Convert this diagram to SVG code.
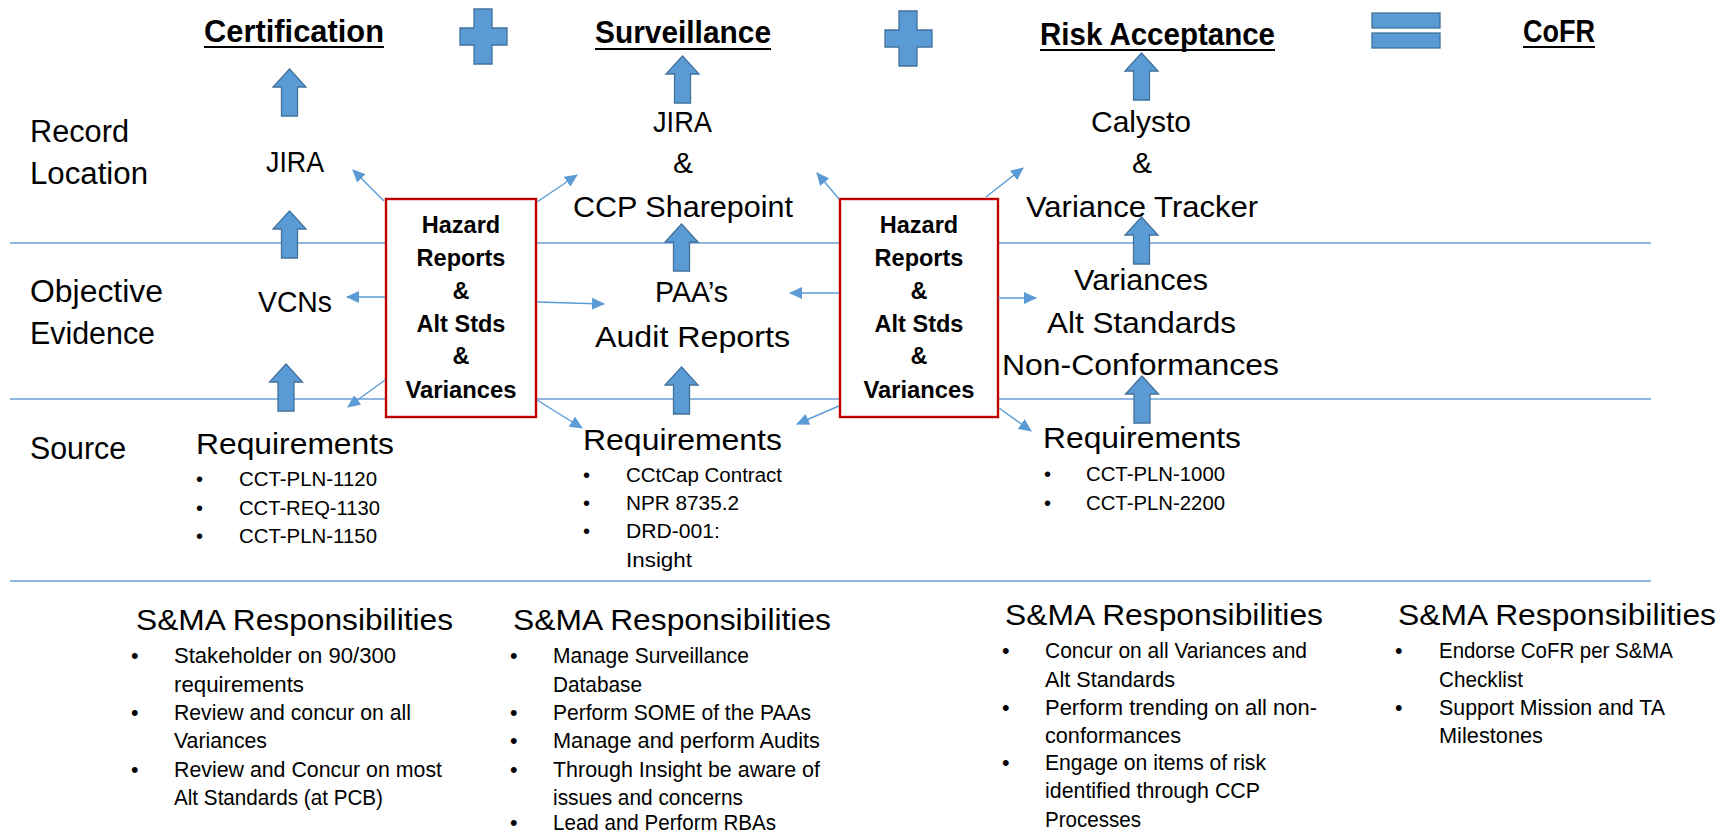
<svg xmlns="http://www.w3.org/2000/svg" width="1726" height="833" viewBox="0 0 1726 833">
<style>
text{font-family:"Liberation Sans",Arial,sans-serif;fill:#000}
.h{font-size:31px;font-weight:bold}
.lab{font-size:31px}
.n{font-size:30px}
.c{text-anchor:middle}
.bx{font-size:23.5px;font-weight:bold;text-anchor:middle}
.rq{font-size:20px}
.sh{font-size:30px}
.b{font-size:21.5px}
.ul{stroke:#000;stroke-width:2.2}
.grid{stroke:#6A9FD8;stroke-width:1.4}
.blk{fill:#5B9BD5;stroke:#41719C;stroke-width:1.3}
.con{stroke:#5B9BD5;stroke-width:1.4;fill:none;marker-end:url(#ah)}
.box{fill:#fff;stroke:#C00000;stroke-width:2.4}
</style>
<defs>
<marker id="ah" markerWidth="14" markerHeight="12" refX="12" refY="6" orient="auto" markerUnits="userSpaceOnUse"><path d="M0,0 L13,6 L0,12 z" fill="#5B9BD5"/></marker>
<path id="up" d="M0,0 L16.5,18 L8,18 L8,47 L-8,47 L-8,18 L-16.5,18 Z"/>
</defs>
<rect width="1726" height="833" fill="#fff"/>
<g id="grid">
<line class="grid" x1="10" y1="243" x2="1651" y2="243"/>
<line class="grid" x1="10" y1="399" x2="1651" y2="399"/>
<line class="grid" x1="10" y1="581" x2="1651" y2="581"/>
</g>
<g id="header">
<g id="certification"><text class="h" x="204" y="42" textLength="180" lengthAdjust="spacingAndGlyphs">Certification</text><line class="ul" x1="204" y1="47" x2="384" y2="47"/></g>
<g id="plus1"><path class="blk" d="M474,9 H492 V28 H507 V45 H492 V64 H474 V45 H460 V28 H474 Z"/></g>
<g id="surveillance"><text class="h" x="595" y="43" textLength="176" lengthAdjust="spacingAndGlyphs">Surveillance</text><line class="ul" x1="595" y1="49" x2="771" y2="49"/></g>
<g id="plus2"><path class="blk" d="M899,11 H917 V30 H932 V47 H917 V66 H899 V47 H885 V30 H899 Z"/></g>
<g id="risk"><text class="h" x="1040" y="45" textLength="235" lengthAdjust="spacingAndGlyphs">Risk Acceptance</text><line class="ul" x1="1040" y1="50" x2="1275" y2="50"/></g>
<g id="equals"><rect class="blk" x="1372" y="13" width="68" height="15"/><rect class="blk" x="1372" y="33" width="68" height="15"/></g>
<g id="cofr"><text class="h" x="1523" y="42" textLength="72" lengthAdjust="spacingAndGlyphs">CoFR</text><line class="ul" x1="1523" y1="47" x2="1595" y2="47"/></g>
</g>
<g id="row-labels">
<text class="lab" x="30" y="142" textLength="99" lengthAdjust="spacingAndGlyphs">Record</text>
<text class="lab" x="30" y="184" textLength="118" lengthAdjust="spacingAndGlyphs">Location</text>
<text class="lab" x="30" y="302" textLength="133" lengthAdjust="spacingAndGlyphs">Objective</text>
<text class="lab" x="30" y="344" textLength="125" lengthAdjust="spacingAndGlyphs">Evidence</text>
<text class="lab" x="30" y="459" textLength="96" lengthAdjust="spacingAndGlyphs">Source</text>
</g>
<g id="jira1"><text class="n" x="266" y="172" textLength="58" lengthAdjust="spacingAndGlyphs">JIRA</text></g>
<g id="vcns"><text class="n" x="258" y="312" textLength="74" lengthAdjust="spacingAndGlyphs">VCNs</text></g>
<g id="req1">
<text class="n" x="196" y="454" textLength="198" lengthAdjust="spacingAndGlyphs">Requirements</text>
<text class="rq" x="196" y="486">•</text><text class="rq" x="239" y="486" textLength="138" lengthAdjust="spacingAndGlyphs">CCT-PLN-1120</text>
<text class="rq" x="196" y="515">•</text><text class="rq" x="239" y="515" textLength="141" lengthAdjust="spacingAndGlyphs">CCT-REQ-1130</text>
<text class="rq" x="196" y="543">•</text><text class="rq" x="239" y="543" textLength="138" lengthAdjust="spacingAndGlyphs">CCT-PLN-1150</text>
</g>
<g id="hazard1">
<rect class="box" x="386" y="199" width="150" height="218"/>
<text class="bx" x="461" y="233">Hazard</text>
<text class="bx" x="461" y="266">Reports</text>
<text class="bx" x="461" y="299">&amp;</text>
<text class="bx" x="461" y="332">Alt Stds</text>
<text class="bx" x="461" y="364">&amp;</text>
<text class="bx" x="461" y="398" textLength="111" lengthAdjust="spacingAndGlyphs">Variances</text>
</g>
<g id="jira-ccp">
<text class="n" x="653" y="132" textLength="59" lengthAdjust="spacingAndGlyphs">JIRA</text>
<text class="n c" x="683" y="173">&amp;</text>
<text class="n" x="573" y="217" textLength="220" lengthAdjust="spacingAndGlyphs">CCP Sharepoint</text>
</g>
<g id="paa">
<text class="n" x="655" y="302" textLength="73" lengthAdjust="spacingAndGlyphs">PAA’s</text>
<text class="n" x="595" y="347" textLength="195" lengthAdjust="spacingAndGlyphs">Audit Reports</text>
</g>
<g id="req2">
<text class="n" x="583" y="450" textLength="199" lengthAdjust="spacingAndGlyphs">Requirements</text>
<text class="rq" x="583" y="482">•</text><text class="rq" x="626" y="482" textLength="156" lengthAdjust="spacingAndGlyphs">CCtCap Contract</text>
<text class="rq" x="583" y="510">•</text><text class="rq" x="626" y="510" textLength="113" lengthAdjust="spacingAndGlyphs">NPR 8735.2</text>
<text class="rq" x="583" y="538">•</text><text class="rq" x="626" y="538" textLength="94" lengthAdjust="spacingAndGlyphs">DRD-001:</text>
<text class="rq" x="626" y="567" textLength="66" lengthAdjust="spacingAndGlyphs">Insight</text>
</g>
<g id="hazard2">
<rect class="box" x="840" y="199" width="158" height="218"/>
<text class="bx" x="919" y="233">Hazard</text>
<text class="bx" x="919" y="266">Reports</text>
<text class="bx" x="919" y="299">&amp;</text>
<text class="bx" x="919" y="332">Alt Stds</text>
<text class="bx" x="919" y="364">&amp;</text>
<text class="bx" x="919" y="398" textLength="111" lengthAdjust="spacingAndGlyphs">Variances</text>
</g>
<g id="calysto">
<text class="n" x="1091" y="132" textLength="100" lengthAdjust="spacingAndGlyphs">Calysto</text>
<text class="n c" x="1142" y="173">&amp;</text>
<text class="n" x="1026" y="217" textLength="232" lengthAdjust="spacingAndGlyphs">Variance Tracker</text>
</g>
<g id="variances">
<text class="n" x="1074" y="290" textLength="134" lengthAdjust="spacingAndGlyphs">Variances</text>
<text class="n" x="1047" y="333" textLength="189" lengthAdjust="spacingAndGlyphs">Alt Standards</text>
<text class="n" x="1002" y="375" textLength="277" lengthAdjust="spacingAndGlyphs">Non-Conformances</text>
</g>
<g id="req3">
<text class="n" x="1043" y="448" textLength="198" lengthAdjust="spacingAndGlyphs">Requirements</text>
<text class="rq" x="1044" y="481">•</text><text class="rq" x="1086" y="481" textLength="139" lengthAdjust="spacingAndGlyphs">CCT-PLN-1000</text>
<text class="rq" x="1044" y="510">•</text><text class="rq" x="1086" y="510" textLength="139" lengthAdjust="spacingAndGlyphs">CCT-PLN-2200</text>
</g>
<g id="resp1">
<text class="sh" x="136" y="630" textLength="317" lengthAdjust="spacingAndGlyphs">S&amp;MA Responsibilities</text>
<text class="b" x="131" y="663">•</text><text class="b" x="174" y="663" textLength="222" lengthAdjust="spacingAndGlyphs">Stakeholder on 90/300</text>
<text class="b" x="174" y="692" textLength="130" lengthAdjust="spacingAndGlyphs">requirements</text>
<text class="b" x="131" y="720">•</text><text class="b" x="174" y="720" textLength="237" lengthAdjust="spacingAndGlyphs">Review and concur on all</text>
<text class="b" x="174" y="748" textLength="93" lengthAdjust="spacingAndGlyphs">Variances</text>
<text class="b" x="131" y="777">•</text><text class="b" x="174" y="777" textLength="268" lengthAdjust="spacingAndGlyphs">Review and Concur on most</text>
<text class="b" x="174" y="805" textLength="209" lengthAdjust="spacingAndGlyphs">Alt Standards (at PCB)</text>
</g>
<g id="resp2">
<text class="sh" x="513" y="630" textLength="318" lengthAdjust="spacingAndGlyphs">S&amp;MA Responsibilities</text>
<text class="b" x="510" y="663">•</text><text class="b" x="553" y="663" textLength="196" lengthAdjust="spacingAndGlyphs">Manage Surveillance</text>
<text class="b" x="553" y="692" textLength="89" lengthAdjust="spacingAndGlyphs">Database</text>
<text class="b" x="510" y="720">•</text><text class="b" x="553" y="720" textLength="258" lengthAdjust="spacingAndGlyphs">Perform SOME of the PAAs</text>
<text class="b" x="510" y="748">•</text><text class="b" x="553" y="748" textLength="267" lengthAdjust="spacingAndGlyphs">Manage and perform Audits</text>
<text class="b" x="510" y="777">•</text><text class="b" x="553" y="777" textLength="267" lengthAdjust="spacingAndGlyphs">Through Insight be aware of</text>
<text class="b" x="553" y="805" textLength="190" lengthAdjust="spacingAndGlyphs">issues and concerns</text>
<text class="b" x="510" y="830">•</text><text class="b" x="553" y="830" textLength="223" lengthAdjust="spacingAndGlyphs">Lead and Perform RBAs</text>
</g>
<g id="resp3">
<text class="sh" x="1005" y="625" textLength="318" lengthAdjust="spacingAndGlyphs">S&amp;MA Responsibilities</text>
<text class="b" x="1002" y="658">•</text><text class="b" x="1045" y="658" textLength="262" lengthAdjust="spacingAndGlyphs">Concur on all Variances and</text>
<text class="b" x="1045" y="687" textLength="130" lengthAdjust="spacingAndGlyphs">Alt Standards</text>
<text class="b" x="1002" y="715">•</text><text class="b" x="1045" y="715" textLength="272" lengthAdjust="spacingAndGlyphs">Perform trending on all non-</text>
<text class="b" x="1045" y="743" textLength="136" lengthAdjust="spacingAndGlyphs">conformances</text>
<text class="b" x="1002" y="770">•</text><text class="b" x="1045" y="770" textLength="221" lengthAdjust="spacingAndGlyphs">Engage on items of risk</text>
<text class="b" x="1045" y="798" textLength="215" lengthAdjust="spacingAndGlyphs">identified  through CCP</text>
<text class="b" x="1045" y="827" textLength="96" lengthAdjust="spacingAndGlyphs">Processes</text>
</g>
<g id="resp4">
<text class="sh" x="1398" y="625" textLength="318" lengthAdjust="spacingAndGlyphs">S&amp;MA Responsibilities</text>
<text class="b" x="1395" y="658">•</text><text class="b" x="1439" y="658" textLength="234" lengthAdjust="spacingAndGlyphs">Endorse CoFR per S&amp;MA</text>
<text class="b" x="1439" y="687" textLength="84" lengthAdjust="spacingAndGlyphs">Checklist</text>
<text class="b" x="1395" y="715">•</text><text class="b" x="1439" y="715" textLength="226" lengthAdjust="spacingAndGlyphs">Support Mission and TA</text>
<text class="b" x="1439" y="743" textLength="104" lengthAdjust="spacingAndGlyphs">Milestones</text>
</g>
<g id="connectors">
<use href="#up" class="blk" x="289.5" y="69"/>
<use href="#up" class="blk" x="289.5" y="211"/>
<use href="#up" class="blk" x="286" y="364"/>
<use href="#up" class="blk" x="682.5" y="56"/>
<use href="#up" class="blk" x="681.5" y="224"/>
<use href="#up" class="blk" x="681.5" y="367"/>
<use href="#up" class="blk" x="1141.5" y="53"/>
<use href="#up" class="blk" x="1141.5" y="217"/>
<use href="#up" class="blk" x="1142" y="376"/>
<line class="con" x1="384" y1="201" x2="353" y2="170"/>
<line class="con" x1="537" y1="202" x2="577" y2="175"/>
<line class="con" x1="385" y1="297" x2="347" y2="297"/>
<line class="con" x1="537" y1="302" x2="604" y2="304"/>
<line class="con" x1="385" y1="380" x2="348" y2="407"/>
<line class="con" x1="537" y1="400" x2="582" y2="428"/>
<line class="con" x1="839" y1="199" x2="817" y2="173"/>
<line class="con" x1="839" y1="293" x2="790" y2="293"/>
<line class="con" x1="839" y1="406" x2="797" y2="424"/>
<line class="con" x1="986" y1="197" x2="1023" y2="168"/>
<line class="con" x1="998" y1="298" x2="1036" y2="298"/>
<line class="con" x1="999" y1="408" x2="1031" y2="431"/>
</g>
</svg>
